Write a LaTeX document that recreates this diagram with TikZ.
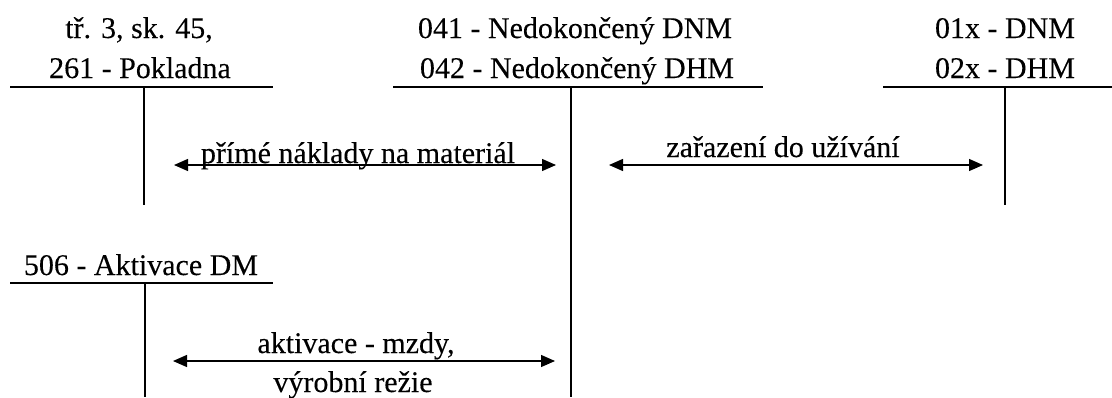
\documentclass[tikz,border=0pt]{standalone}
\usepackage{fontspec}
\setmainfont{Liberation Serif}[FakeBold=0.15]
\usetikzlibrary{arrows.meta}
\begin{document}
\begin{tikzpicture}[x=1pt,y=-1pt,
  lbl/.style={anchor=base,inner sep=0pt,font=\fontsize{30}{34}\selectfont},
  tline/.style={line width=2pt},
  flow/.style={line width=1.3pt,{Triangle[length=14pt,width=12pt]}-{Triangle[length=14pt,width=12pt]}}]
\useasboundingbox (0,0) rectangle (1112,397);
% T account 1
\node[lbl] (a1) at (139,38) {tř. 3, sk. 45,};
\node[lbl] (a2) at (140,78) {261 - Pokladna};
\coordinate (aL) at (10,87); \coordinate (aR) at (273,87);
\coordinate (aT) at (144,87); \coordinate (aB) at (144,205);
\draw[tline] (aL) -- (aR);
\draw[tline] (aT) -- (aB);
% T account 2
\node[lbl] (b1) at (575,38) {041 - Nedokončený DNM};
\node[lbl] (b2) at (577,78) {042 - Nedokončený DHM};
\coordinate (bL) at (393,87); \coordinate (bR) at (763,87);
\coordinate (bT) at (571,87); \coordinate (bB) at (571,397);
\draw[tline] (bL) -- (bR);
\draw[tline] (bT) -- (bB);
% T account 3
\node[lbl] (c1) at (1005,38) {01x - DNM};
\node[lbl] (c2) at (1005,78) {02x - DHM};
\coordinate (cL) at (883,87); \coordinate (cR) at (1112,87);
\coordinate (cT) at (1005,87); \coordinate (cB) at (1005,205);
\draw[tline] (cL) -- (cR);
\draw[tline] (cT) -- (cB);
% T account 4
\node[lbl] (d1) at (141,275) {506 - Aktivace DM};
\coordinate (dL) at (10,283); \coordinate (dR) at (273,283);
\coordinate (dT) at (145,283); \coordinate (dB) at (145,397);
\draw[tline] (dL) -- (dR);
\draw[tline] (dT) -- (dB);
% arrows
\coordinate (f1a) at (174,165); \coordinate (f1b) at (556,165);
\draw[flow] (f1a) -- (f1b);
\node[lbl] (f1) at (358,163) {přímé náklady na materiál};
\coordinate (f2a) at (609,165); \coordinate (f2b) at (983,165);
\draw[flow] (f2a) -- (f2b);
\node[lbl] (f2) at (783,157) {zařazení do užívání};
\coordinate (f3a) at (173,361); \coordinate (f3b) at (555,361);
\draw[flow] (f3a) -- (f3b);
\node[lbl] (f3) at (356,353) {aktivace - mzdy,};
\node[lbl] (f4) at (353,392) {výrobní režie};
\end{tikzpicture}
\end{document}
